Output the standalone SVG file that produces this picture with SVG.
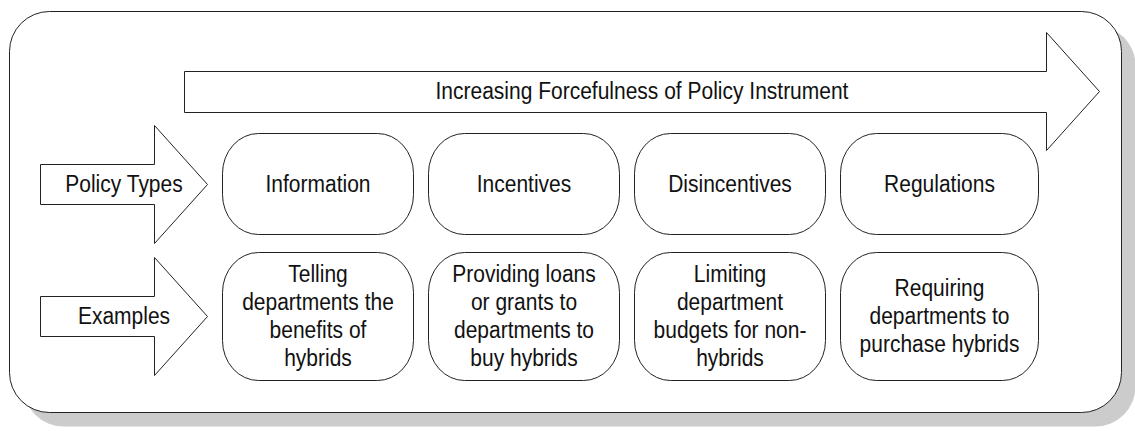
<svg xmlns="http://www.w3.org/2000/svg" width="1135" height="431" viewBox="0 0 1135 431">
<style>
.box{fill:#fff;stroke:#222;stroke-width:1}
.arr{fill:#fff;stroke:#222;stroke-width:1}
text{font-family:"Liberation Sans",Arial,sans-serif;font-size:21px;fill:#111;text-anchor:middle;transform-box:fill-box;transform-origin:center;transform:scaleY(1.12)}
</style>
<g id="frame">
<rect x="23.5" y="25.5" width="1112" height="401" rx="40" fill="#cccccc"/>
<rect x="9.5" y="11.5" width="1112" height="401" rx="40" fill="#fff" stroke="#222" stroke-width="1"/>
</g>
<g id="connectors">
<g id="arrow-force">
<path class="arr" d="M184.5,71.5 H1046.5 V32.5 L1099.5,91.5 L1046.5,150.5 V112.5 H184.5 Z"/>
<text x="642" y="98.5">Increasing Forcefulness of Policy Instrument</text>
</g>
<g id="arrow-types">
<path class="arr" d="M40.5,164.5 H154.5 V125.5 L207.5,184.5 L154.5,243.5 V204.5 H40.5 Z"/>
<text x="124" y="191.5">Policy Types</text>
</g>
<g id="arrow-examples">
<path class="arr" d="M40.5,296.5 H154.5 V257.5 L207.5,316.5 L154.5,375.5 V336.5 H40.5 Z"/>
<text x="124" y="323.5">Examples</text>
</g>
</g>
<g id="information">
<rect class="box" x="222.5" y="133.5" width="191" height="101" rx="36" ry="40"/>
<text x="318" y="191.5">Information</text>
</g>
<g id="incentives">
<rect class="box" x="428.5" y="133.5" width="191" height="101" rx="36" ry="40"/>
<text x="524" y="191.5">Incentives</text>
</g>
<g id="disincentives">
<rect class="box" x="634.5" y="133.5" width="191" height="101" rx="36" ry="40"/>
<text x="730" y="191.5">Disincentives</text>
</g>
<g id="regulations">
<rect class="box" x="840.5" y="133.5" width="198" height="101" rx="36" ry="40"/>
<text x="939.5" y="191.5">Regulations</text>
</g>
<g id="ex-information">
<rect class="box" x="222.5" y="252.5" width="191" height="128" rx="36" ry="40"/>
<text x="318" y="281.5">Telling</text>
<text x="318" y="309.5">departments the</text>
<text x="318" y="337.5">benefits of</text>
<text x="318" y="365.5">hybrids</text>
</g>
<g id="ex-incentives">
<rect class="box" x="428.5" y="252.5" width="191" height="128" rx="36" ry="40"/>
<text x="524" y="281.5">Providing loans</text>
<text x="524" y="309.5">or grants to</text>
<text x="524" y="337.5">departments to</text>
<text x="524" y="365.5">buy hybrids</text>
</g>
<g id="ex-disincentives">
<rect class="box" x="634.5" y="252.5" width="191" height="128" rx="36" ry="40"/>
<text x="730" y="281.5">Limiting</text>
<text x="730" y="309.5">department</text>
<text x="730" y="337.5">budgets for non-</text>
<text x="730" y="365.5">hybrids</text>
</g>
<g id="ex-regulations">
<rect class="box" x="840.5" y="252.5" width="198" height="128" rx="36" ry="40"/>
<text x="939.5" y="295.5">Requiring</text>
<text x="939.5" y="323.5">departments to</text>
<text x="939.5" y="351.5">purchase hybrids</text>
</g>
</svg>
